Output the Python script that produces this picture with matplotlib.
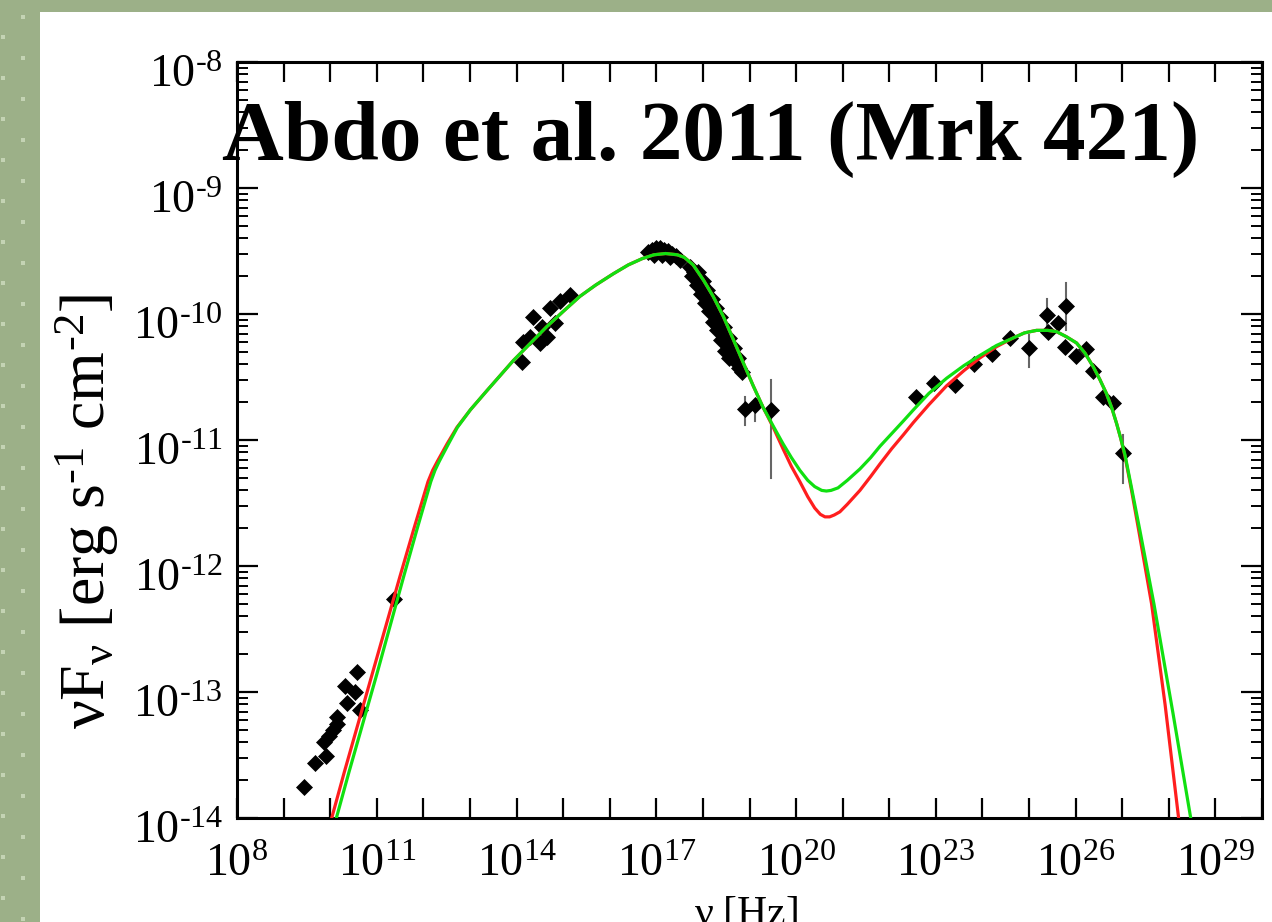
import numpy as np
import matplotlib
matplotlib.use("Agg")
import matplotlib.pyplot as plt
from matplotlib.patches import Rectangle
from matplotlib.ticker import FixedLocator, NullFormatter, FuncFormatter
from matplotlib.transforms import ScaledTranslation

plt.rcParams['font.family'] = ['Liberation Serif', 'DejaVu Serif']
plt.rcParams['mathtext.fontset'] = 'custom'
plt.rcParams['mathtext.rm'] = 'Liberation Serif'
plt.rcParams['mathtext.it'] = 'Liberation Serif:italic'
plt.rcParams['mathtext.bf'] = 'Liberation Serif:bold'

# ---------------- data (log10 nu [Hz], log10 nuFnu [erg/s/cm2]) ----------------
radio_lognu = [9.43, 9.67, 9.92, 9.87, 9.97, 10.07, 10.15, 10.15, 10.36, 10.32, 10.58, 10.54, 10.65, 11.36]
radio_logf = [-13.75, -13.56, -13.51, -13.40, -13.35, -13.30, -13.25, -13.20, -13.09, -12.95, -12.84, -13.00, -13.14, -12.26]

opt_lognu = [14.12, 14.14, 14.29, 14.36, 14.50, 14.54, 14.65, 14.72, 14.82, 14.93, 15.15]
opt_logf = [-10.38, -10.22, -10.18, -10.02, -10.23, -10.10, -10.18, -9.95, -10.07, -9.90, -9.85]

xray_lognu = [16.82, 16.91, 16.99, 17.08, 17.16, 17.25, 17.33, 17.42, 17.51, 16.95, 17.12, 17.29,
              17.72, 17.81, 17.87, 17.91, 17.98, 18.02, 18.06, 18.11, 18.15, 18.19, 18.24, 18.28,
              18.32, 18.36, 18.41, 18.45, 18.49, 18.54, 18.58, 18.64, 18.71, 18.77, 18.84,
              17.76, 17.87, 17.95, 18.04, 18.13, 18.21, 18.30, 18.38, 18.47, 18.55,
              17.90, 18.00, 18.09, 18.19, 18.28, 18.37, 18.46, 18.56, 18.66, 18.76]
xray_logf = [-9.51, -9.49, -9.48, -9.48, -9.49, -9.50, -9.52, -9.54, -9.57, -9.53, -9.53, -9.55,
             -9.63, -9.67, -9.70, -9.74, -9.77, -9.81, -9.84, -9.87, -9.91, -9.95, -9.98, -10.02,
             -10.06, -10.10, -10.13, -10.17, -10.21, -10.25, -10.29, -10.33, -10.38, -10.43, -10.46,
             -9.70, -9.77, -9.84, -9.91, -9.98, -10.06, -10.13, -10.21, -10.29, -10.35,
             -9.67, -9.74, -9.81, -9.88, -9.95, -10.02, -10.10, -10.19, -10.27, -10.35]

# hard X-ray points with error bars
hx_lognu = [18.90, 19.12, 19.47]
hx_logf = [-10.75, -10.72, -10.76]
hx_lo = [-10.88, -10.85, -11.30]
hx_hi = [-10.66, -10.68, -10.52]

# gamma-ray points
gam_lognu = [22.57, 22.96, 23.41, 23.82, 24.20, 24.59, 25.00, 25.38, 25.41, 25.62, 25.80, 25.78,
             26.00, 26.23, 26.38, 26.59, 26.80, 27.01]
gam_logf = [-10.66, -10.55, -10.56, -10.40, -10.32, -10.19, -10.27, -10.01, -10.14, -10.07, -9.94, -10.26,
            -10.33, -10.28, -10.45, -10.66, -10.71, -11.10]
gam_err_idx = [6, 7, 10, 17]
gam_lo = [-10.42, -10.10, -10.13, -11.34]
gam_hi = [-10.17, -9.88, -9.75, -10.96]

# model curves
red_lognu = [10.04, 10.30, 10.60, 10.90, 11.20, 11.50, 11.80, 12.10, 12.20, 12.30, 12.51, 12.72, 13.01,
             13.36, 13.93, 14.65, 15.00, 15.36, 15.70, 16.08, 16.40, 16.70, 16.95, 17.20, 17.45, 17.60,
             17.79, 18.01, 18.22, 18.44, 18.65, 18.87, 19.08, 19.29, 19.51, 19.72, 19.90, 20.08, 20.25,
             20.40, 20.52, 20.62, 20.72, 20.82, 20.94, 21.10, 21.37, 21.60, 21.80, 22.05, 22.30, 22.52,
             22.85, 23.23, 23.60, 23.94, 24.30, 24.66, 24.90, 25.16, 25.40, 25.59, 25.80, 26.02, 26.20,
             26.38, 26.52, 26.66, 26.78, 26.88, 26.97, 27.06, 27.20, 27.36, 27.63, 27.92, 28.21]
red_logf = [-13.99, -13.64, -13.25, -12.86, -12.47, -12.08, -11.70, -11.33, -11.24, -11.17, -11.03, -10.90, -10.76,
            -10.61, -10.37, -10.10, -9.98, -9.86, -9.77, -9.68, -9.61, -9.56, -9.53, -9.52, -9.53, -9.55,
            -9.61, -9.73, -9.86, -10.02, -10.20, -10.39, -10.57, -10.74, -10.90, -11.07, -11.21, -11.33, -11.45,
            -11.54, -11.59, -11.61, -11.61, -11.595, -11.57, -11.51, -11.40, -11.29, -11.19, -11.07, -10.96, -10.86,
            -10.72, -10.57, -10.45, -10.35, -10.26, -10.19, -10.15, -10.13, -10.13, -10.14, -10.18, -10.23, -10.31,
            -10.42, -10.52, -10.63, -10.75, -10.87, -10.99, -11.13, -11.40, -11.73, -12.30, -13.10, -14.0]

green_lognu = [10.14, 10.40, 10.70, 11.00, 11.29, 11.58, 11.87, 12.16, 12.25, 12.34, 12.54, 12.73, 13.01,
               13.36, 13.93, 14.65, 15.00, 15.36, 15.70, 16.08, 16.40, 16.70, 16.95, 17.20, 17.45, 17.60,
               17.79, 18.01, 18.22, 18.44, 18.65, 18.87, 19.08, 19.29, 19.51, 19.72, 19.90, 20.08, 20.25,
               20.40, 20.55, 20.65, 20.75, 20.90, 21.10, 21.37, 21.60, 21.80, 22.05, 22.30, 22.52, 22.85,
               23.23, 23.60, 23.94, 24.30, 24.66, 24.90, 25.16, 25.40, 25.59, 25.80, 26.02, 26.20, 26.38,
               26.52, 26.66, 26.78, 26.88, 26.97, 27.06, 27.20, 27.38, 27.68, 28.09, 28.47]
green_logf = [-13.99, -13.64, -13.25, -12.86, -12.47, -12.08, -11.70, -11.33, -11.24, -11.17, -11.03, -10.90, -10.76,
              -10.61, -10.37, -10.10, -9.98, -9.86, -9.77, -9.68, -9.61, -9.56, -9.53, -9.52, -9.53, -9.55,
              -9.61, -9.73, -9.86, -10.02, -10.20, -10.39, -10.57, -10.74, -10.89, -11.03, -11.14, -11.24, -11.32,
              -11.37, -11.40, -11.405, -11.40, -11.38, -11.32, -11.23, -11.14, -11.05, -10.95, -10.85, -10.76, -10.63,
              -10.51, -10.41, -10.33, -10.25, -10.19, -10.15, -10.13, -10.13, -10.14, -10.18, -10.23, -10.31, -10.42,
              -10.52, -10.63, -10.75, -10.87, -10.99, -11.12, -11.38, -11.72, -12.30, -13.17, -14.0]

x_major_exp = [8, 11, 14, 17, 20, 23, 26, 29]
y_major_exp = [-14, -13, -12, -11, -10, -9, -8]

title_text = "Abdo et al. 2011 (Mrk 421)"
xlabel_text = r"$\mathrm{ν\ [Hz]}$"
ylabel_text = r"$\mathrm{νF_{ν}\ [erg\ s^{\text{-}1}\ cm^{\text{-}2}]}$"

# ---------------- figure ----------------
W, H = 1272, 922
fig = plt.figure(figsize=(W / 100, H / 100), dpi=100)
fig.patch.set_facecolor('white')

# green slide border
border = '#9cb088'
fig.patches.append(Rectangle((0, 0), 40 / W, 1, transform=fig.transFigure, facecolor=border, edgecolor='none', zorder=-5))
fig.patches.append(Rectangle((0, 1 - 12 / H), 1, 12 / H, transform=fig.transFigure, facecolor=border, edgecolor='none', zorder=-5))
for k in range(24):
    yy = 17 + 41 * k
    fig.patches.append(Rectangle((21 / W, 1 - (yy + 2) / H), 4 / W, 4 / H, transform=fig.transFigure,
                                 facecolor='#c4d3b4', edgecolor='none', zorder=-4))
    yy2 = yy + 20
    fig.patches.append(Rectangle((1 / W, 1 - (yy2 + 2) / H), 4 / W, 4 / H, transform=fig.transFigure,
                                 facecolor='#c4d3b4', edgecolor='none', zorder=-4))

ax = fig.add_axes([237 / W, (H - 818) / H, (1262 - 237) / W, (818 - 62) / H])
ax.set_xscale('log')
ax.set_yscale('log')
ax.set_xlim(1e8, 1e30)
ax.set_ylim(1e-14, 1e-8)

p10 = lambda a: np.power(10.0, np.asarray(a, dtype=float))

ms = 8
# error bars
for i, lo, hi in zip(gam_err_idx, gam_lo, gam_hi):
    ax.plot([p10(gam_lognu[i])] * 2, [p10(lo), p10(hi)], color='#666666', lw=1.5, zorder=2)
for xv, lo, hi in zip(hx_lognu, hx_lo, hx_hi):
    ax.plot([p10(xv)] * 2, [p10(lo), p10(hi)], color='#666666', lw=1.5, zorder=2)

for xs, ys in [(radio_lognu, radio_logf), (opt_lognu, opt_logf), (xray_lognu, xray_logf),
               (hx_lognu, hx_logf), (gam_lognu, gam_logf)]:
    ax.plot(p10(xs), p10(ys), linestyle='none', marker='D', ms=ms, mfc='black', mec='black', mew=0.5, zorder=3)

ax.plot(p10(red_lognu), p10(red_logf), color='#ff1e1e', lw=2.3, zorder=4, solid_joinstyle='round')
ax.plot(p10(green_lognu), p10(green_logf), color='#10e010', lw=2.3, zorder=5, solid_joinstyle='round')


def fmt(v, pos):
    e = int(round(np.log10(v)))
    if e < 0:
        return r'$\mathdefault{10^{\text{-}%d}}$' % (-e)
    return r'$\mathdefault{10^{%d}}$' % e


# ticks
ax.xaxis.set_major_locator(FixedLocator([10.0 ** k for k in x_major_exp]))
ax.xaxis.set_minor_locator(FixedLocator([10.0 ** k for k in range(8, 31)]))
ax.xaxis.set_major_formatter(FuncFormatter(fmt))
ax.xaxis.set_minor_formatter(NullFormatter())
ax.yaxis.set_major_locator(FixedLocator([10.0 ** k for k in y_major_exp]))
ax.yaxis.set_minor_locator(FixedLocator([m * 10.0 ** k for k in range(-14, -8) for m in range(2, 10)]))
ax.yaxis.set_major_formatter(FuncFormatter(fmt))
ax.yaxis.set_minor_formatter(NullFormatter())

ax.tick_params(axis='x', which='both', direction='in', length=14.4, width=1.6, top=True, bottom=True,
               labelsize=33, pad=18)
ax.tick_params(axis='y', which='major', direction='in', length=15, width=1.6, left=True, right=True,
               labelsize=33, pad=10)
ax.tick_params(axis='y', which='minor', direction='in', length=8, width=1.4, left=True, right=True)
for s in ax.spines.values():
    s.set_linewidth(2.2)

off = ScaledTranslation(0, -6 / 72, fig.dpi_scale_trans)
for lab in ax.get_yticklabels():
    lab.set_transform(lab.get_transform() + off)

fig.text(222 / W, (H - 160) / H, title_text, fontsize=61.5, fontweight='bold', ha='left', va='baseline',
         family='Liberation Serif', zorder=10)
fig.text(87 / W, (H - 511) / H, ylabel_text, fontsize=46, rotation=90, ha='center', va='center')
fig.text(746 / W, (H - 925) / H, xlabel_text, fontsize=30, ha='center', va='baseline')

fig.savefig('out.png', dpi=100)
